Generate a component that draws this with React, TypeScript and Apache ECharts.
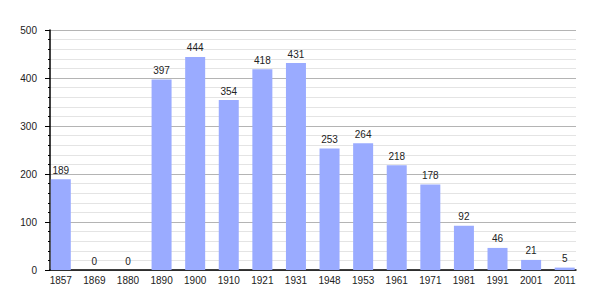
import React, { useEffect, useRef } from "react";
import * as echarts from "echarts";

const years = ["1857", "1869", "1880", "1890", "1900", "1910", "1921", "1931", "1948", "1953", "1961", "1971", "1981", "1991", "2001", "2011"];
const population = [189, 0, 0, 397, 444, 354, 418, 431, 253, 264, 218, 178, 92, 46, 21, 5];

const FONT = "'Liberation Sans', Arial, sans-serif";

export default function App() {
  const ref = useRef<HTMLDivElement>(null);
  useEffect(() => {
    if (!ref.current) return;
    const chart = echarts.init(ref.current, undefined, { renderer: "svg" });
    chart.setOption({
      animation: false,
      backgroundColor: "#ffffff",
      grid: [
        { left: 50, right: 29, top: 30, bottom: 30 },
        { left: 44, right: 23.5, top: 30, bottom: 30 },
      ],
      xAxis: [
        {
          gridIndex: 0,
          type: "value",
          min: 0,
          max: 1,
          axisLine: { show: true, lineStyle: { color: "#000", width: 1.5 } },
          axisTick: { show: false },
          axisLabel: { show: false },
          splitLine: { show: false },
        },
        {
          gridIndex: 1,
          type: "category",
          data: years,
          axisLine: { show: false },
          axisTick: { show: false },
          axisLabel: { color: "#222", fontSize: 10, fontFamily: FONT, margin: 5, interval: 0 },
          splitLine: { show: false },
        },
      ],
      yAxis: [
        {
          gridIndex: 0,
          type: "value",
          min: 0,
          max: 500,
          interval: 100,
          axisLine: { show: true, lineStyle: { color: "#000", width: 1.5 } },
          axisTick: { show: true, length: 5, lineStyle: { color: "#000" } },
          minorTick: { show: true, splitNumber: 5, length: 2, lineStyle: { color: "#000" } },
          axisLabel: { color: "#222", fontSize: 10, fontFamily: FONT, margin: 13 },
          splitLine: { show: true, lineStyle: { color: "#b4b4b4", width: 1 } },
          minorSplitLine: { show: true, lineStyle: { color: "#e4e4e4", width: 1 } },
        },
        {
          gridIndex: 1,
          type: "value",
          min: 0,
          max: 500,
          show: false,
          splitLine: { show: false },
        },
      ],
      series: [
        {
          type: "bar",
          xAxisIndex: 1,
          yAxisIndex: 1,
          data: population,
          barWidth: 20,
          itemStyle: { color: "#9aabff" },
          label: {
            show: true,
            position: "top",
            distance: 4,
            color: "#222",
            fontSize: 10,
            fontFamily: FONT,
          },
        },
      ],
    });
    return () => chart.dispose();
  }, []);
  return <div ref={ref} style={{ width: 605, height: 300, position: "absolute", left: 0, top: 0 }} />;
}
